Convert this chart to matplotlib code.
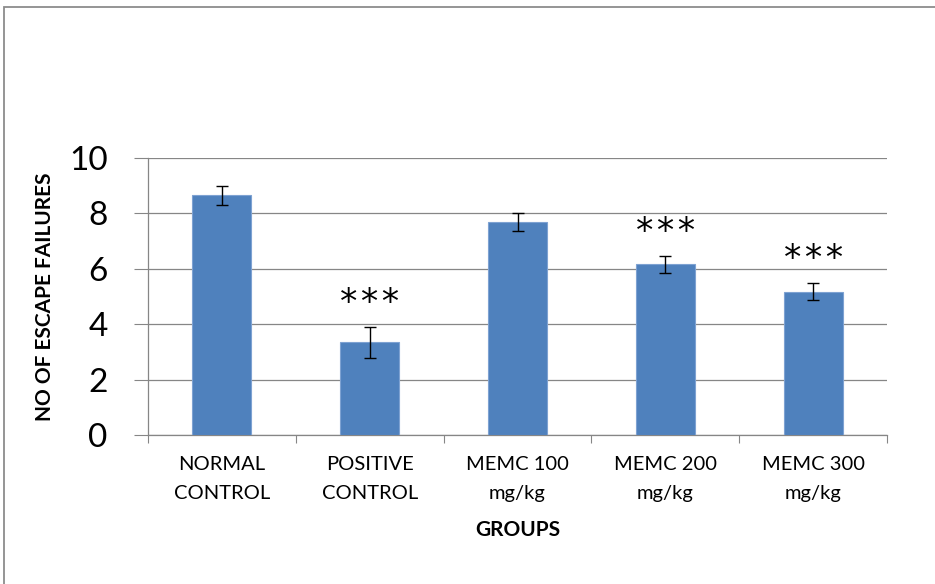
# Escape failures per group, bar chart with SEM error bars.

import matplotlib
matplotlib.use("Agg")
import matplotlib.pyplot as plt
from matplotlib.patches import Rectangle
import numpy

groups = ["NORMAL\nCONTROL", "POSITIVE\nCONTROL", "MEMC 100\nmg/kg", "MEMC 200\nmg/kg", "MEMC 300\nmg/kg"]
failures = [8.65, 3.34, 7.68, 6.16, 5.18]
sem = [0.33, 0.55, 0.33, 0.31, 0.32]
signif = ["", "***", "", "***", "***"]

plt.rcParams['font.family'] = ['Lato', 'DejaVu Sans']
grid_col = '#868686'

fig = plt.figure(figsize=(9.35, 5.84), dpi=100)
ax = fig.add_axes([148/935, 1 - 435/584, 739/935, 277/584])

x = numpy.arange(len(groups))
ax.bar(x, failures, width=0.4, color='#4F81BD', edgecolor='#7EA2D2', linewidth=0.8, zorder=3)
ax.errorbar(x, failures, yerr=sem, fmt='none', ecolor='black', elinewidth=1,
            capsize=4, capthick=1, zorder=4)

for xi, v, e, s in zip(x, failures, sem, signif):
    if s:
        ax.annotate('\u200a'.join(s), (xi, v + e), xytext=(0, 5), textcoords='offset points',
                    ha='center', va='bottom', fontsize=25, family='DejaVu Sans')

ax.set_xlim(-0.5, len(groups) - 0.5)
ax.set_ylim(0, 10)
ax.set_yticks([0, 2, 4, 6, 8, 10])
ax.yaxis.grid(True, color=grid_col, linewidth=0.9, zorder=0)
ax.tick_params(axis='y', length=10, width=0.8, color=grid_col, pad=19, labelsize=24)

# category boundaries as major ticks, labels on minor ticks
ax.set_xticks(numpy.arange(len(groups) + 1) - 0.5)
ax.set_xticklabels([])
ax.set_xticks(x, minor=True)
ax.set_xticklabels(groups, minor=True, fontsize=14.5, linespacing=1.85)
ax.tick_params(axis='x', which='major', length=6, width=0.8, color=grid_col)
ax.tick_params(axis='x', which='minor', length=0, pad=15)

for side in ['top', 'right']:
    ax.spines[side].set_visible(False)
for side in ['left', 'bottom']:
    ax.spines[side].set_color(grid_col)
    ax.spines[side].set_linewidth(0.9)

ax.set_ylabel("NO OF ESCAPE FAILURES", fontsize=15, fontweight='bold')
ax.yaxis.set_label_coords(-0.139, 0.5)
ax.set_xlabel("GROUPS", fontsize=15, fontweight='bold')
ax.xaxis.set_label_coords(0.5, -0.343)
ax.xaxis.label.set_va('center')
ax.yaxis.label.set_va('center')

# outer chart frame, cut by the picture edge on the right and bottom
fig.patches.append(Rectangle((4/935, -0.1), 1.2, 1 - 7/584 + 0.1, transform=fig.transFigure,
                             fill=False, edgecolor='#8C8C8C', linewidth=1.3))

fig.savefig("out.png", dpi=100)
